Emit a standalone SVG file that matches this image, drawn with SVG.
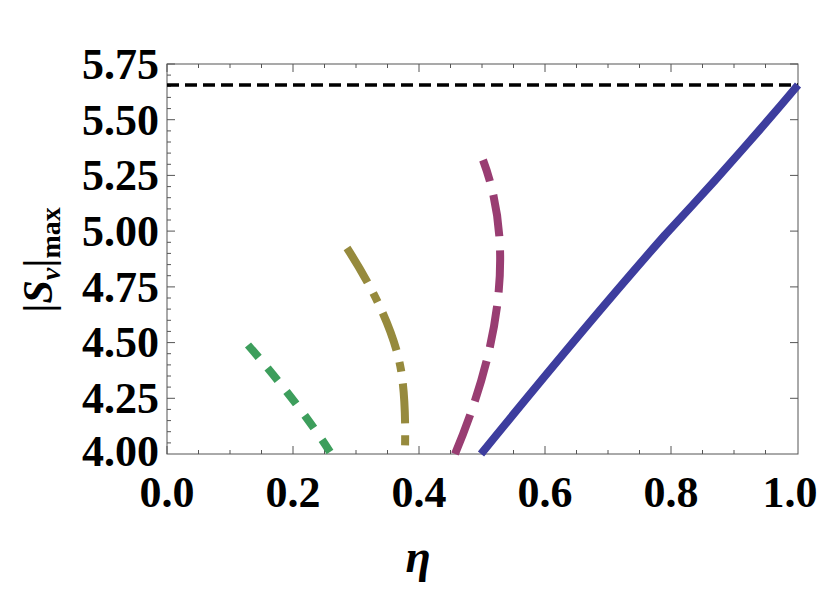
<svg xmlns="http://www.w3.org/2000/svg" width="830" height="590" viewBox="0 0 830 590">
<style>
.t{font-family:'Liberation Serif','Times New Roman','DejaVu Serif',serif;font-weight:bold;fill:#000}
.ax{stroke:#555;stroke-width:1;fill:none}
.c{fill:none;stroke-width:8}
</style>
<rect width="830" height="590" fill="#fff"/>
<g id="frame">
<rect class="ax" x="167" y="64" width="631" height="390"/>
<path class="ax" d="M167,454v-8M198.5,454v-4M230,454v-4M261.5,454v-4M293,454v-8M324.5,454v-4M356,454v-4M387.5,454v-4M419,454v-8M450.5,454v-4M482,454v-4M513.5,454v-4M545,454v-8M576.5,454v-4M608,454v-4M639.5,454v-4M671,454v-8M702.5,454v-4M734,454v-4M765.5,454v-4
M167,64v8M198.5,64v4M230,64v4M261.5,64v4M293,64v8M324.5,64v4M356,64v4M387.5,64v4M419,64v8M450.5,64v4M482,64v4M513.5,64v4M545,64v8M576.5,64v4M608,64v4M639.5,64v4M671,64v8M702.5,64v4M734,64v4M765.5,64v4
M167,64h8M167,75.1h4M167,86.3h4M167,97.4h4M167,108.6h4M167,119.7h8M167,130.9h4M167,142h4M167,153.1h4M167,164.3h4M167,175.4h8M167,186.6h4M167,197.7h4M167,208.9h4M167,220h4M167,231.1h8M167,242.3h4M167,253.4h4M167,264.6h4M167,275.7h4M167,286.9h8M167,298h4M167,309.1h4M167,320.3h4M167,331.4h4M167,342.6h8M167,353.7h4M167,364.9h4M167,376h4M167,387.1h4M167,398.3h8M167,409.4h4M167,420.6h4M167,431.7h4M167,442.9h4
M798,64h-8M798,119.7h-8M798,175.4h-8M798,231.1h-8M798,286.9h-8M798,342.6h-8M798,398.3h-8"/>
</g>
<g id="ylabels" class="t" font-size="44" text-anchor="end">
<text x="159" y="79">5.75</text>
<text x="159" y="135">5.50</text>
<text x="159" y="190">5.25</text>
<text x="159" y="246">5.00</text>
<text x="159" y="302">4.75</text>
<text x="159" y="357">4.50</text>
<text x="159" y="413">4.25</text>
<text x="159" y="466">4.00</text>
</g>
<g id="xlabels" class="t" font-size="44" text-anchor="middle">
<text x="167" y="507">0.0</text>
<text x="293" y="507">0.2</text>
<text x="419" y="507">0.4</text>
<text x="545" y="507">0.6</text>
<text x="671" y="507">0.8</text>
<text x="790" y="507">1.0</text>
</g>
<text class="t" x="418" y="572" font-style="italic" font-size="46" text-anchor="middle">η</text>
<text class="t" transform="translate(52,260) rotate(-90)" text-anchor="middle" font-size="42">|<tspan font-style="italic">S<tspan font-size="28" dy="8">v</tspan></tspan><tspan dy="-8">|</tspan><tspan font-size="28" dy="8">max</tspan></text>
<g id="curves">
<path d="M167,85H798" fill="none" stroke="#000" stroke-width="3.5" stroke-dasharray="12,6"/>
<path class="c" stroke="#3d3d9e" d="M481,454 Q590,320 665,235 Q735,160 798,85"/>
<path class="c" stroke="#993d72" stroke-dasharray="42,14" d="M455,454 Q528,280 483,160"/>
<path class="c" stroke="#968a3d" stroke-dasharray="40,12,10,12" d="M347,248 Q392,318 401,370 Q406,400 405,450"/>
<path class="c" stroke="#3d9e5c" stroke-dasharray="16,14" d="M248,345 Q300,405 330,452"/>
</g>
</svg>
